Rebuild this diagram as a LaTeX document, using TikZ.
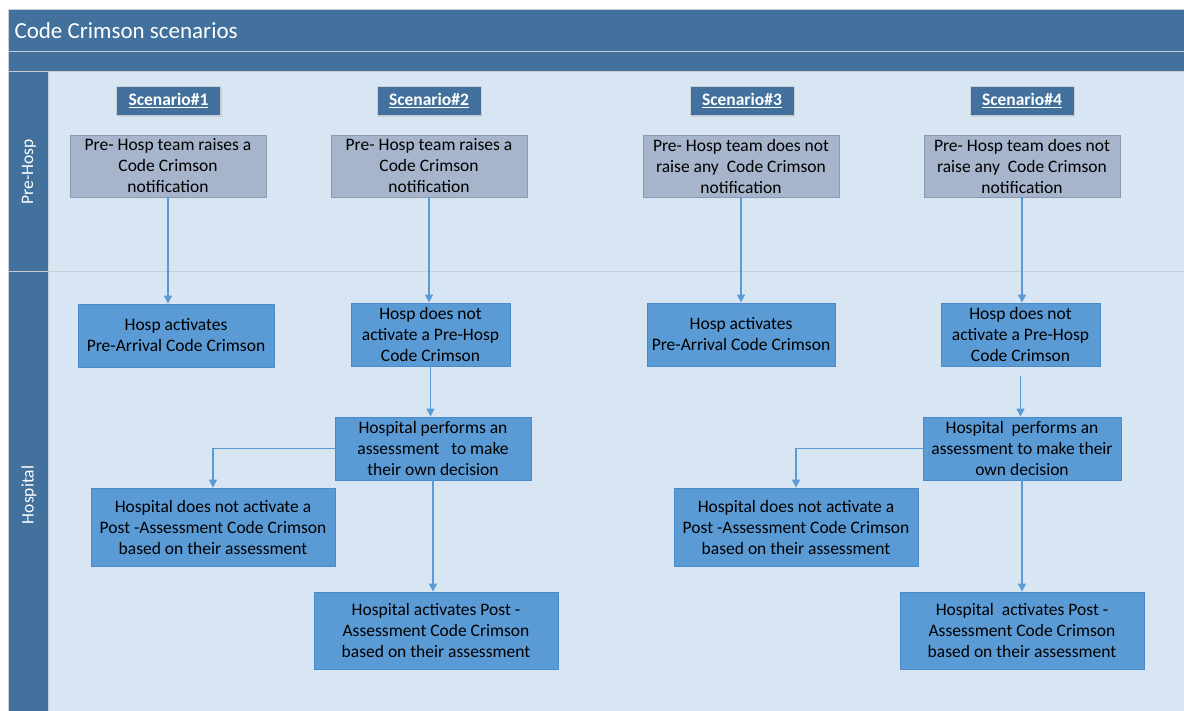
\documentclass[tikz,border=0pt]{standalone}
\usepackage{fontspec}
\setmainfont{Carlito}
\usepackage{tikz}
\usetikzlibrary{arrows.meta, positioning, shadows}
\definecolor{BarBlue}{RGB}{65,113,156}
\definecolor{LaneBlue}{RGB}{216,229,243}
\definecolor{PreFill}{RGB}{166,181,204}
\definecolor{PreLine}{RGB}{138,154,180}
\definecolor{StepFill}{RGB}{91,155,213}
\definecolor{StepLine}{RGB}{74,138,200}
\definecolor{RuleGray}{RGB}{200,206,214}
\tikzstyle{arrow} = [line width=1.2pt, StepFill, -{Triangle[width=8pt,length=8pt]}]
\tikzstyle{rule} = [line width=1pt, RuleGray]
\tikzstyle{scenhead} = [fill=BarBlue, draw=RuleGray, text=white, font=\bfseries\fontsize{17.5}{20}\selectfont, minimum width=104pt, minimum height=29pt, inner sep=0pt, drop shadow={shadow xshift=1pt, shadow yshift=-2.5pt, fill=black!25}]
\tikzstyle{prebox} = [fill=PreFill, draw=PreLine, line width=0.8pt, font=\fontsize{17.5}{21}\selectfont, align=center, minimum width=196pt, minimum height=62pt, inner sep=0pt]
\tikzstyle{stepbox} = [fill=StepFill, draw=StepLine, line width=0.8pt, font=\fontsize{17.5}{21}\selectfont, align=center, minimum height=63pt, inner sep=0pt]
\tikzstyle{lanelabel} = [rotate=90, text=white, font=\fontsize{17.5}{20}\selectfont]

\begin{document}
\begin{tikzpicture}[x=1pt, y=-1pt]
                
                \useasboundingbox (0,0) rectangle (1184,711);
                \fill[white] (0,0) rectangle (1184,711);
                
                % lanes and bars
                \fill[LaneBlue] (48,72) rectangle (1184,711);
                \fill[BarBlue] (8,10) rectangle (1184,72);
                \fill[BarBlue] (8,72) rectangle (48,711);
                \draw[rule] (8,10) -- (1184,10);
                \draw[rule] (8,10) -- (8,711);
                \draw[rule] (8,52) -- (1184,52);
                \draw[rule] (8,72) -- (1184,72);
                \draw[rule] (8,272) -- (1184,272);
                \draw[rule] (48,72) -- (48,711);
                
                \node[anchor=west, text=white, font=\fontsize{23}{27}\selectfont] (title) at (11,31) {Code Crimson scenarios};
                \node[lanelabel] (lanePre) at (29,172) {Pre-Hosp};
                \node[lanelabel] (laneHosp) at (29,495) {Hospital};
                
                % scenario headers
                \node[scenhead] (headA) at (168.5,100.5) {\underline{Scenario\#1}};
                \node[scenhead] (headB) at (429,100.5) {\underline{Scenario\#2}};
                \node[scenhead] (headC) at (742,100.5) {\underline{Scenario\#3}};
                \node[scenhead] (headD) at (1022,100.5) {\underline{Scenario\#4}};
                
                % pre-hosp
                \node[prebox] (preA) at (168,166) {Pre- Hosp team raises a\\Code Crimson\\notification};
                \node[prebox] (preB) at (429,166) {Pre- Hosp team raises a\\Code Crimson\\notification};
                \node[prebox] (preC) at (741,166) {Pre- Hosp team does not\\raise any~~Code Crimson\\notification};
                \node[prebox] (preD) at (1022,166) {Pre- Hosp team does not\\raise any~~Code Crimson\\notification};
                
                % hospital
                \node[stepbox, minimum width=196pt] (hospA) at (176,335.5) {Hosp activates\\Pre-Arrival Code Crimson};
                \node[stepbox, minimum width=159pt] (hospB) at (430.5,334.5) {Hosp does not\\activate a Pre-Hosp\\Code Crimson};
                \node[stepbox, minimum width=188pt] (hospC) at (741,334.5) {Hosp activates\\Pre-Arrival Code Crimson};
                \node[stepbox, minimum width=159pt] (hospD) at (1020.5,334.5) {Hosp does not\\activate a Pre-Hosp\\Code Crimson};
                
                \node[stepbox, minimum width=196pt] (assessB) at (433,448.5) {Hospital performs an\\assessment~~~to make\\their own decision};
                \node[stepbox, minimum width=198pt] (assessD) at (1022,448.5) {Hospital~~performs an\\assessment to make their\\own decision};
                
                \node[stepbox, minimum width=244pt, minimum height=78pt] (notB) at (213,527) {Hospital does not activate a\\Post -Assessment Code Crimson\\based on their assessment};
                \node[stepbox, minimum width=244pt, minimum height=78pt] (notD) at (796,527) {Hospital does not activate a\\Post -Assessment Code Crimson\\based on their assessment};
                
                \node[stepbox, minimum width=244pt, minimum height=77pt] (postB) at (436,630.5) {Hospital activates Post -\\Assessment Code Crimson\\based on their assessment};
                \node[stepbox, minimum width=244pt, minimum height=77pt] (postD) at (1022,630.5) {Hospital~~activates Post -\\Assessment Code Crimson\\based on their assessment};
                
                % connectors
                \draw[arrow] (preA) -- (preA |- hospA.north);
                \draw[arrow] (preB) -- (preB |- hospB.north);
                \draw[arrow] (preC) -- (preC |- hospC.north);
                \draw[arrow] (preD) -- (preD |- hospD.north);
                \draw[arrow] (hospB) -- (hospB |- assessB.north);
                \draw[arrow, shorten <=10pt] (hospD) -- (hospD |- assessD.north);
                \draw[arrow] (assessB.west) -| (notB.north);
                \draw[arrow] (assessD.west) -| (notD.north);
                \draw[arrow] (assessB) -- (assessB |- postB.north);
                \draw[arrow] (assessD) -- (assessD |- postD.north);
            \end{tikzpicture}
\end{document}
